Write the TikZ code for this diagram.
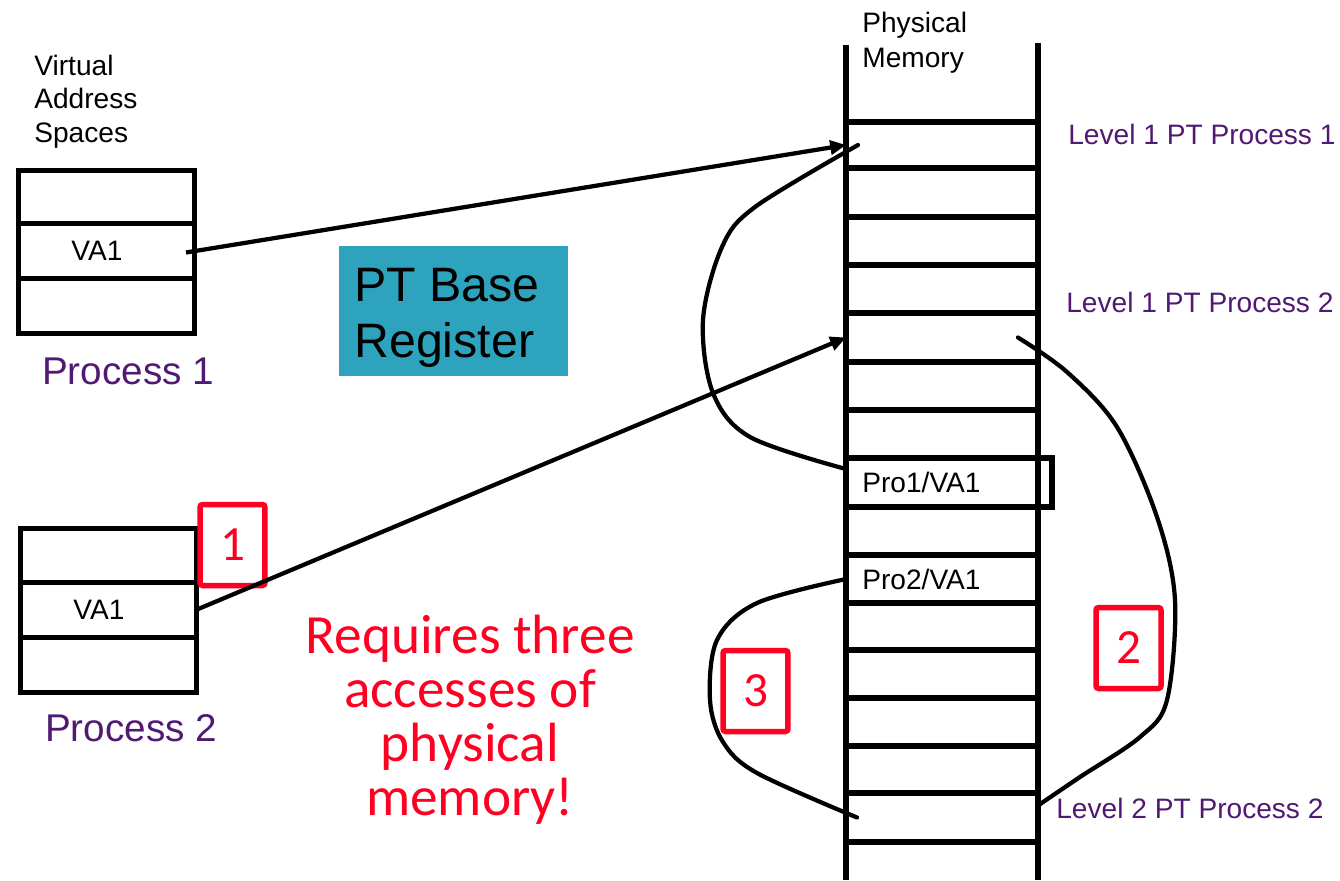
\documentclass[tikz,border=0pt]{standalone}
\usepackage{fontspec}
\setmainfont{Liberation Sans}
\newfontfamily\calibri{Carlito}
\usetikzlibrary{arrows.meta,calc}
\definecolor{ppl}{RGB}{80,25,115}
\definecolor{tealbox}{RGB}{46,163,190}
\definecolor{redmark}{RGB}{255,0,35}
\begin{document}
\begin{tikzpicture}[x=0.02cm,y=-0.02cm,
  cell/.style={draw, line width=0.115cm, minimum width=3.84cm, inner sep=0pt, outer sep=0pt},
  vrow/.style={draw, line width=0.1cm, minimum width=3.54cm, inner sep=0pt, outer sep=0pt, font=\fontsize{16}{19}\selectfont},
  lbl/.style={font=\fontsize{16}{19}\selectfont, inner sep=0pt},
  proc/.style={text=ppl, font=\fontsize{22}{26}\selectfont, inner sep=0pt},
  lvl/.style={lbl, text=ppl, anchor=west},
  redbox/.style={draw=redmark, line width=0.11cm, rounded corners=1.5pt, minimum width=1.3cm, minimum height=1.62cm, inner sep=0pt, text=redmark, font=\calibri\fontsize{28}{32}\selectfont},
  link/.style={line width=0.085cm, -{Triangle[length=9pt,width=8pt]}},
  hop/.style={line width=0.085cm, line join=round, line cap=round}]
\useasboundingbox (0,0) rectangle (1340,880);

% physical memory column
\draw[line width=0.115cm] (846,45) -- (846,880);
\draw[line width=0.115cm] (1038,43) -- (1038,880);
\foreach \i/\c/\h in {1/145/46, 2/192.5/49, 3/241/48, 4/289/48, 5/337.5/49, 6/386/48, 7/434/48,
  9/531/48, 10/579/48, 11/626.5/47, 12/674/48, 13/722/48, 14/769.5/47, 15/817.5/49}
  \node[cell, minimum height=\h*0.02cm] (m\i) at (942,\c) {};
\node[cell, minimum width=4.12cm, minimum height=0.98cm] (m8) at (949,482.5) {};
\node[lbl, anchor=west] (t8) at ($(m8.west)+(16,0)$) {Pro1/VA1};
\node[lbl, anchor=west] (t10) at ($(m10.west)+(16,0)$) {Pro2/VA1};
\node[lbl, anchor=west, align=left, font=\fontsize{16}{19.8}\selectfont] (pm) at (862,42.5) {Physical\\Memory};

% labels right
\node[lvl] (l1) at (1068,134) {Level 1 PT Process 1};
\node[lvl] (l2) at (1066,302) {Level 1 PT Process 2};
\node[lvl] (l3) at (1056,808) {Level 2 PT Process 2};

% virtual address spaces
\node[lbl, anchor=west, align=left, font=\fontsize{16}{19}\selectfont] (vas) at (34,101.5) {Virtual\\Address\\Spaces};
\node[vrow, minimum height=1.06cm] (p1top) at (106.5,196.5) {};
\node[vrow, minimum height=1.1cm] (p1va) at (106.5,250.5) {\hspace*{-0.38cm}VA1};
\node[vrow, minimum height=1.1cm] (p1bot) at (106.5,305.5) {};
\node[proc] (pr1) at (128,371) {Process 1};

\node[vrow, minimum height=1.08cm] (p2top) at (108.5,555) {};
\node[vrow, minimum height=1.1cm] (p2va) at (108.5,609.5) {\hspace*{-0.38cm}VA1};
\node[vrow, minimum height=1.1cm] (p2bot) at (108.5,664.5) {};
\node[proc] (pr2) at (131,728) {Process 2};

% PT base register
\node[fill=tealbox, minimum width=4.58cm, minimum height=2.6cm, inner sep=0pt] (ptb) at (453.5,311) {};
\node[anchor=west, align=left, inner sep=0pt, font=\fontsize{27.5}{31.5}\selectfont] (ptbt) at (354,318) {PT Base\\Register};

% note
\node[text=redmark, font=\calibri\fontsize{31.5}{30.8}\selectfont, align=center, inner sep=0pt] (req) at (470,720) {Requires three\\accesses of\\physical\\memory!};

% red step boxes
\node[redbox] (r1) at (232.5,545) {1};
\node[redbox] (r2) at (1128.5,648) {2};
\node[redbox] (r3) at (755.5,691) {3};

% arrows
\draw[link] ($(p1va.east)+(-9,2)$) -- (m1.west);
\draw[link] (p2va.east) -- (m5.west);

% curves
\coordinate (aS) at ($(m8.west)+(-2,-14)$);
\coordinate (aE) at ($(m1.west)+(12,0)$);
\draw[hop] plot[smooth, tension=0.55] coordinates {(aS) (750,437) (713,393) (703,320) (722,247) (755,207) (aE)};

\coordinate (bS) at ($(m5.east)+(-20,0)$);
\coordinate (bE) at ($(m15.east)+(0,-12)$);
\draw[hop] plot[smooth, tension=0.55] coordinates {(bS) (1067,372) (1117,427) (1157,517) (1175,600) (1167,700) (1140,737) (1080,777) (bE)};

\coordinate (cS) at (m10.west);
\coordinate (cE) at ($(m15.west)+(11,0)$);
\draw[hop] plot[smooth, tension=0.55] coordinates {(cS) (757,603) (717,640) (710,700) (723,742) (757,773) (cE)};
\end{tikzpicture}
\end{document}
